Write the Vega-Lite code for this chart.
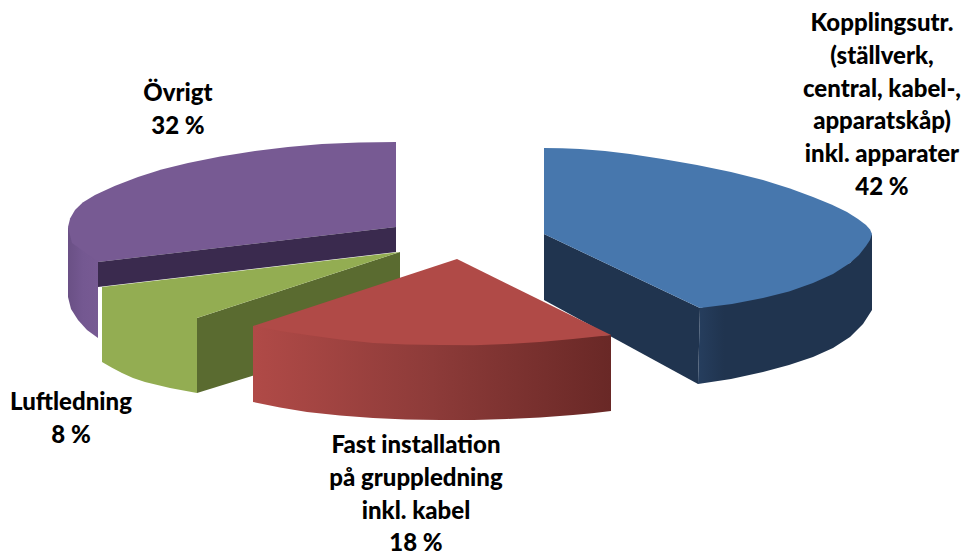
{
  "$schema": "https://vega.github.io/schema/vega-lite/v6.json",
  "width": 969,
  "height": 555,
  "padding": 0,
  "autosize": {"type": "none"},
  "background": "white",
  "view": {"stroke": null},
  "datasets": {
    "shares": [
      {"slice": "Kopplingsutr.", "value": 42, "label": "Kopplingsutr.\n(ställverk,\ncentral, kabel-,\napparatskåp)\ninkl. apparater\n42 %", "x": 882, "y": 24},
      {"slice": "Fast installation", "value": 18, "label": "Fast installation\npå gruppledning\ninkl. kabel\n18 %", "x": 416, "y": 446},
      {"slice": "Luftledning", "value": 8, "label": "Luftledning\n8 %", "x": 71, "y": 403},
      {"slice": "Övrigt", "value": 32, "label": "Övrigt\n32 %", "x": 178, "y": 94}
    ],
    "outlines": [
      {"face": "ovrigt-side", "seq": 1, "x": 68, "y": 227},
      {"face": "ovrigt-side", "seq": 2, "x": 68, "y": 297},
      {"face": "ovrigt-side", "seq": 3, "x": 71, "y": 309},
      {"face": "ovrigt-side", "seq": 4, "x": 78, "y": 320},
      {"face": "ovrigt-side", "seq": 5, "x": 87, "y": 330},
      {"face": "ovrigt-side", "seq": 6, "x": 98, "y": 338},
      {"face": "ovrigt-side", "seq": 7, "x": 98, "y": 255},
      {"face": "ovrigt-top", "seq": 1, "x": 396, "y": 142},
      {"face": "ovrigt-top", "seq": 2, "x": 359, "y": 142.6},
      {"face": "ovrigt-top", "seq": 3, "x": 322, "y": 144},
      {"face": "ovrigt-top", "seq": 4, "x": 288, "y": 146.9},
      {"face": "ovrigt-top", "seq": 5, "x": 255, "y": 151},
      {"face": "ovrigt-top", "seq": 6, "x": 220.4, "y": 156.6},
      {"face": "ovrigt-top", "seq": 7, "x": 188, "y": 163},
      {"face": "ovrigt-top", "seq": 8, "x": 161.5, "y": 169.6},
      {"face": "ovrigt-top", "seq": 9, "x": 138, "y": 177},
      {"face": "ovrigt-top", "seq": 10, "x": 114.6, "y": 185.9},
      {"face": "ovrigt-top", "seq": 11, "x": 95, "y": 195},
      {"face": "ovrigt-top", "seq": 12, "x": 82.7, "y": 202.6},
      {"face": "ovrigt-top", "seq": 13, "x": 75, "y": 210},
      {"face": "ovrigt-top", "seq": 14, "x": 70.2, "y": 218.3},
      {"face": "ovrigt-top", "seq": 15, "x": 68, "y": 227},
      {"face": "ovrigt-top", "seq": 16, "x": 72, "y": 243},
      {"face": "ovrigt-top", "seq": 17, "x": 98, "y": 262},
      {"face": "ovrigt-top", "seq": 18, "x": 396, "y": 227},
      {"face": "ovrigt-wall", "seq": 1, "x": 396, "y": 227},
      {"face": "ovrigt-wall", "seq": 2, "x": 396, "y": 252},
      {"face": "ovrigt-wall", "seq": 3, "x": 98, "y": 287},
      {"face": "ovrigt-wall", "seq": 4, "x": 98, "y": 262},
      {"face": "luft-wall", "seq": 1, "x": 400, "y": 252},
      {"face": "luft-wall", "seq": 2, "x": 400, "y": 330},
      {"face": "luft-wall", "seq": 3, "x": 197, "y": 393},
      {"face": "luft-wall", "seq": 4, "x": 197, "y": 318},
      {"face": "luft-top", "seq": 1, "x": 400, "y": 252},
      {"face": "luft-top", "seq": 2, "x": 102, "y": 287},
      {"face": "luft-top", "seq": 3, "x": 102, "y": 362},
      {"face": "luft-top", "seq": 4, "x": 112, "y": 367.8},
      {"face": "luft-top", "seq": 5, "x": 122, "y": 373},
      {"face": "luft-top", "seq": 6, "x": 133, "y": 378},
      {"face": "luft-top", "seq": 7, "x": 145, "y": 382},
      {"face": "luft-top", "seq": 8, "x": 170, "y": 388},
      {"face": "luft-top", "seq": 9, "x": 197, "y": 393},
      {"face": "luft-top", "seq": 10, "x": 197, "y": 318},
      {"face": "koppling-wall", "seq": 1, "x": 544, "y": 234},
      {"face": "koppling-wall", "seq": 2, "x": 700, "y": 308},
      {"face": "koppling-wall", "seq": 3, "x": 698, "y": 384},
      {"face": "koppling-wall", "seq": 4, "x": 544, "y": 300},
      {"face": "koppling-rim", "seq": 1, "x": 700, "y": 308},
      {"face": "koppling-rim", "seq": 2, "x": 850, "y": 263},
      {"face": "koppling-rim", "seq": 3, "x": 872, "y": 234},
      {"face": "koppling-rim", "seq": 4, "x": 872, "y": 310},
      {"face": "koppling-rim", "seq": 5, "x": 863, "y": 324},
      {"face": "koppling-rim", "seq": 6, "x": 850, "y": 337},
      {"face": "koppling-rim", "seq": 7, "x": 833, "y": 348},
      {"face": "koppling-rim", "seq": 8, "x": 813, "y": 357},
      {"face": "koppling-rim", "seq": 9, "x": 789, "y": 365},
      {"face": "koppling-rim", "seq": 10, "x": 763, "y": 372},
      {"face": "koppling-rim", "seq": 11, "x": 731, "y": 379},
      {"face": "koppling-rim", "seq": 12, "x": 698, "y": 384},
      {"face": "koppling-top", "seq": 1, "x": 544, "y": 148},
      {"face": "koppling-top", "seq": 2, "x": 562, "y": 148.3},
      {"face": "koppling-top", "seq": 3, "x": 580, "y": 149},
      {"face": "koppling-top", "seq": 4, "x": 605, "y": 150.9},
      {"face": "koppling-top", "seq": 5, "x": 630, "y": 154},
      {"face": "koppling-top", "seq": 6, "x": 662.5, "y": 158.9},
      {"face": "koppling-top", "seq": 7, "x": 697, "y": 165},
      {"face": "koppling-top", "seq": 8, "x": 731, "y": 172.1},
      {"face": "koppling-top", "seq": 9, "x": 763, "y": 180},
      {"face": "koppling-top", "seq": 10, "x": 790, "y": 188.5},
      {"face": "koppling-top", "seq": 11, "x": 813, "y": 197},
      {"face": "koppling-top", "seq": 12, "x": 832, "y": 204.7},
      {"face": "koppling-top", "seq": 13, "x": 847, "y": 212},
      {"face": "koppling-top", "seq": 14, "x": 858, "y": 218.9},
      {"face": "koppling-top", "seq": 15, "x": 866, "y": 225},
      {"face": "koppling-top", "seq": 16, "x": 870, "y": 229.5},
      {"face": "koppling-top", "seq": 17, "x": 872, "y": 234},
      {"face": "koppling-top", "seq": 18, "x": 870, "y": 240},
      {"face": "koppling-top", "seq": 19, "x": 866, "y": 246},
      {"face": "koppling-top", "seq": 20, "x": 859, "y": 255},
      {"face": "koppling-top", "seq": 21, "x": 850, "y": 263},
      {"face": "koppling-top", "seq": 22, "x": 833, "y": 274},
      {"face": "koppling-top", "seq": 23, "x": 813, "y": 283},
      {"face": "koppling-top", "seq": 24, "x": 789, "y": 291.5},
      {"face": "koppling-top", "seq": 25, "x": 763, "y": 298},
      {"face": "koppling-top", "seq": 26, "x": 732, "y": 304},
      {"face": "koppling-top", "seq": 27, "x": 700, "y": 308},
      {"face": "koppling-top", "seq": 28, "x": 544, "y": 234},
      {"face": "fast-rim", "seq": 1, "x": 253, "y": 326},
      {"face": "fast-rim", "seq": 2, "x": 440, "y": 340},
      {"face": "fast-rim", "seq": 3, "x": 611, "y": 335},
      {"face": "fast-rim", "seq": 4, "x": 611, "y": 411},
      {"face": "fast-rim", "seq": 5, "x": 592, "y": 413.2},
      {"face": "fast-rim", "seq": 6, "x": 573, "y": 415},
      {"face": "fast-rim", "seq": 7, "x": 540, "y": 417.5},
      {"face": "fast-rim", "seq": 8, "x": 507, "y": 419},
      {"face": "fast-rim", "seq": 9, "x": 474, "y": 420},
      {"face": "fast-rim", "seq": 10, "x": 440, "y": 420},
      {"face": "fast-rim", "seq": 11, "x": 406, "y": 419.5},
      {"face": "fast-rim", "seq": 12, "x": 373, "y": 418},
      {"face": "fast-rim", "seq": 13, "x": 340, "y": 415.5},
      {"face": "fast-rim", "seq": 14, "x": 307, "y": 412},
      {"face": "fast-rim", "seq": 15, "x": 280, "y": 407.5},
      {"face": "fast-rim", "seq": 16, "x": 253, "y": 402},
      {"face": "fast-top", "seq": 1, "x": 457, "y": 259},
      {"face": "fast-top", "seq": 2, "x": 611, "y": 335},
      {"face": "fast-top", "seq": 3, "x": 592, "y": 337},
      {"face": "fast-top", "seq": 4, "x": 573, "y": 339},
      {"face": "fast-top", "seq": 5, "x": 540, "y": 342},
      {"face": "fast-top", "seq": 6, "x": 507, "y": 344},
      {"face": "fast-top", "seq": 7, "x": 474, "y": 345.2},
      {"face": "fast-top", "seq": 8, "x": 440, "y": 345},
      {"face": "fast-top", "seq": 9, "x": 406, "y": 344.5},
      {"face": "fast-top", "seq": 10, "x": 373, "y": 343},
      {"face": "fast-top", "seq": 11, "x": 340, "y": 339.5},
      {"face": "fast-top", "seq": 12, "x": 307, "y": 335},
      {"face": "fast-top", "seq": 13, "x": 280, "y": 331},
      {"face": "fast-top", "seq": 14, "x": 253, "y": 326}
    ]
  },
  "data": {"name": "outlines"},
  "encoding": {
    "x": {"field": "x", "type": "quantitative", "scale": {"domain": [0, 969], "nice": false, "zero": false}, "axis": null},
    "y": {"field": "y", "type": "quantitative", "scale": {"domain": [555, 0], "nice": false, "zero": false}, "axis": null},
    "order": {"field": "seq", "type": "quantitative"}
  },
  "layer": [
    {
      "transform": [{"filter": "datum.face === 'ovrigt-side'"}],
      "mark": {"type": "line", "strokeWidth": 0, "fill": {"gradient": "linear", "x1": 0, "y1": 0, "x2": 1, "y2": 0, "stops": [{"offset": 0, "color": "#6a5085"}, {"offset": 0.5, "color": "#745891"}, {"offset": 1, "color": "#775a93"}]}}
    },
    {
      "transform": [{"filter": "datum.face === 'ovrigt-top'"}],
      "mark": {"type": "line", "strokeWidth": 0, "fill": "#775a93"}
    },
    {
      "transform": [{"filter": "datum.face === 'ovrigt-wall'"}],
      "mark": {"type": "line", "strokeWidth": 0, "fill": "#3a2a4e"}
    },
    {
      "transform": [{"filter": "datum.face === 'luft-wall'"}],
      "mark": {"type": "line", "strokeWidth": 0, "fill": "#5a6b30"}
    },
    {
      "transform": [{"filter": "datum.face === 'luft-top'"}],
      "mark": {"type": "line", "strokeWidth": 0, "fill": "#93ad52"}
    },
    {
      "transform": [{"filter": "datum.face === 'koppling-wall'"}],
      "mark": {"type": "line", "strokeWidth": 0, "fill": "#20344f"}
    },
    {
      "transform": [{"filter": "datum.face === 'koppling-rim'"}],
      "mark": {"type": "line", "strokeWidth": 0, "fill": {"gradient": "linear", "x1": 0, "y1": 0, "x2": 1, "y2": 0, "stops": [{"offset": 0, "color": "#263e5e"}, {"offset": 0.15, "color": "#20344f"}, {"offset": 1, "color": "#20344f"}]}}
    },
    {
      "transform": [{"filter": "datum.face === 'koppling-top'"}],
      "mark": {"type": "line", "strokeWidth": 0, "fill": "#4777ad"}
    },
    {
      "transform": [{"filter": "datum.face === 'fast-rim'"}],
      "mark": {"type": "line", "strokeWidth": 0, "fill": {"gradient": "linear", "x1": 0, "y1": 0, "x2": 1, "y2": 0, "stops": [{"offset": 0, "color": "#b04a47"}, {"offset": 0.5, "color": "#8d3b39"}, {"offset": 1, "color": "#692826"}]}}
    },
    {
      "transform": [{"filter": "datum.face === 'fast-top'"}],
      "mark": {"type": "line", "strokeWidth": 0, "fill": "#b04a47"}
    },
    {
      "data": {"name": "shares"},
      "mark": {"type": "text", "font": "Lato", "fontWeight": 900, "fontSize": 24, "lineHeight": 32.8, "lineBreak": "\n", "align": "center", "baseline": "middle", "color": "#000000"},
      "encoding": {
        "text": {"field": "label", "type": "nominal"},
        "order": null
      }
    }
  ]
}
